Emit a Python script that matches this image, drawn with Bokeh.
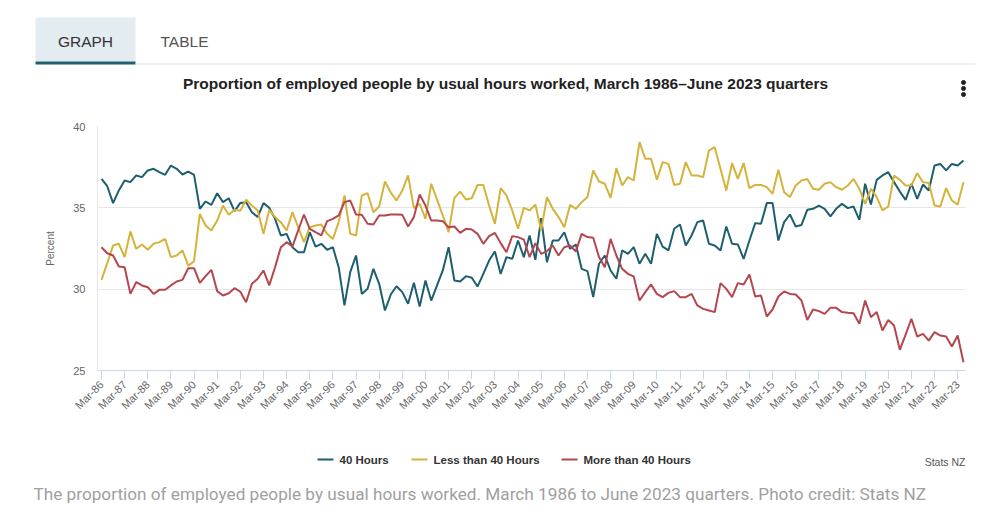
import math
from bokeh.plotting import figure
from bokeh.layouts import column
from bokeh.models import ColumnDataSource, FixedTicker, Range1d
from bokeh.core.properties import value
from bokeh.embed import file_html
from bokeh.resources import INLINE

# ---------------- data (quarterly, Mar-86 .. Jun-23) ----------------
tick_labels = ["Mar-86", "Mar-87", "Mar-88", "Mar-89", "Mar-90", "Mar-91", "Mar-92",
               "Mar-93", "Mar-94", "Mar-95", "Mar-96", "Mar-97", "Mar-98", "Mar-99",
               "Mar-00", "Mar-01", "Mar-02", "Mar-03", "Mar-04", "Mar-05", "Mar-06",
               "Mar-07", "Mar-08", "Mar-09", "Mar-10", "Mar-11", "Mar-12", "Mar-13",
               "Mar-14", "Mar-15", "Mar-16", "Mar-17", "Mar-18", "Mar-19", "Mar-20",
               "Mar-21", "Mar-22", "Mar-23"]
quarter_months = ["Mar", "Jun", "Sep", "Dec"]
years = ["86", "87", "88", "89", "90", "91", "92", "93", "94", "95", "96", "97", "98",
         "99", "00", "01", "02", "03", "04", "05", "06", "07", "08", "09", "10", "11",
         "12", "13", "14", "15", "16", "17", "18", "19", "20", "21", "22", "23"]
quarters = [m + "-" + y for y in years for m in quarter_months][:150]

hours_40 = [36.78, 36.33, 35.29, 36.07, 36.68, 36.58, 36.99, 36.89, 37.30, 37.40,
            37.19, 37.03, 37.60, 37.40, 37.05, 37.23, 37.03, 34.94, 35.39, 35.18,
            35.90, 35.35, 35.59, 34.80, 35.30, 35.35, 34.73, 34.43, 35.29, 35.00,
            34.32, 33.30, 33.40, 32.58, 32.27, 32.27, 33.50, 32.62, 32.79, 32.42,
            32.58, 31.35, 29.00, 31.05, 32.07, 29.71, 30.02, 31.25, 30.33, 28.69,
            29.67, 30.18, 29.82, 29.10, 30.39, 28.93, 30.53, 29.30, 30.23, 31.15,
            32.58, 30.53, 30.47, 30.80, 30.70, 30.16, 30.94, 31.76, 32.32, 30.94,
            31.97, 31.86, 32.99, 31.97, 33.30, 31.80, 34.36, 31.66, 32.99, 32.99,
            33.50, 32.48, 32.75, 31.25, 31.11, 29.51, 31.56, 32.07, 31.15, 30.64,
            32.38, 32.17, 32.58, 31.56, 32.17, 31.56, 33.40, 32.62, 32.38, 33.71,
            33.98, 32.68, 33.30, 34.12, 34.22, 32.79, 32.68, 32.38, 33.85, 32.79,
            32.75, 31.86, 32.99, 34.06, 34.02, 35.29, 35.29, 32.99, 34.12, 34.59,
            33.85, 33.95, 34.88, 34.94, 35.14, 34.94, 34.47, 34.94, 35.25, 34.98,
            35.08, 34.26, 36.48, 35.20, 36.72, 36.99, 37.19, 36.58, 36.00, 35.49,
            36.48, 35.55, 36.43, 36.07, 37.60, 37.70, 37.30, 37.70, 37.60, 37.91]

less_than_40 = [30.57, 31.60, 32.68, 32.79, 31.97, 33.55, 32.48, 32.75, 32.42, 32.79,
                32.89, 33.09, 31.97, 32.07, 32.38, 31.45, 31.72, 34.63, 33.91, 33.61,
                34.22, 35.14, 34.57, 34.88, 34.82, 35.50, 35.14, 34.84, 33.40, 34.88,
                34.43, 34.12, 33.61, 34.73, 33.81, 32.89, 33.81, 33.91, 33.98, 33.40,
                33.09, 34.12, 35.76, 33.40, 33.30, 35.76, 35.90, 34.73, 35.08, 36.62,
                35.94, 35.45, 36.07, 36.99, 34.98, 35.25, 34.32, 36.48, 35.51, 34.53,
                33.50, 35.61, 36.00, 35.51, 35.59, 36.41, 36.41, 35.14, 34.02, 36.21,
                35.76, 34.84, 33.71, 35.00, 34.84, 35.20, 33.61, 35.66, 34.94, 34.43,
                33.81, 35.18, 34.94, 35.35, 35.66, 37.30, 36.62, 36.48, 35.61, 37.44,
                36.37, 36.89, 36.68, 39.04, 38.01, 38.01, 36.72, 37.81, 37.70, 36.41,
                36.48, 37.81, 36.99, 36.99, 36.89, 38.52, 38.73, 37.40, 36.07, 37.75,
                36.78, 37.75, 36.21, 36.41, 36.41, 36.27, 35.86, 37.34, 35.96, 35.66,
                36.37, 36.68, 36.78, 36.17, 36.11, 36.48, 36.58, 36.27, 36.11, 36.37,
                36.78, 36.17, 35.25, 36.17, 35.66, 34.84, 35.08, 36.99, 36.72, 36.37,
                36.37, 37.13, 36.58, 36.52, 35.14, 35.08, 36.21, 35.45, 35.20, 36.58]

more_than_40 = [32.58, 32.21, 32.07, 31.39, 31.35, 29.71, 30.43, 30.23, 30.12, 29.71,
                29.96, 29.96, 30.23, 30.47, 30.57, 31.29, 31.29, 30.39, 30.80, 31.19,
                29.88, 29.61, 29.75, 30.06, 29.84, 29.20, 30.33, 30.64, 31.15, 30.23,
                31.35, 32.58, 32.89, 32.62, 33.61, 34.59, 33.71, 33.50, 33.30, 34.18,
                34.32, 34.53, 35.35, 35.45, 34.59, 34.57, 34.02, 33.98, 34.53, 34.53,
                34.59, 34.59, 34.57, 33.85, 34.43, 35.82, 35.14, 34.22, 34.22, 34.18,
                33.81, 33.85, 33.46, 33.71, 33.67, 33.40, 32.79, 33.26, 33.46, 32.83,
                32.27, 33.26, 33.20, 33.05, 31.97, 32.83, 32.17, 32.34, 32.68, 32.07,
                32.58, 32.68, 32.32, 33.40, 33.20, 33.16, 31.97, 31.35, 33.09, 32.07,
                31.25, 30.94, 30.78, 29.30, 29.82, 30.29, 29.71, 29.51, 29.77, 29.88,
                29.51, 29.51, 29.71, 29.00, 28.79, 28.69, 28.59, 30.37, 30.02, 29.51,
                30.37, 30.29, 30.90, 29.55, 29.61, 28.32, 28.75, 29.55, 29.86, 29.71,
                29.67, 29.30, 28.11, 28.75, 28.65, 28.48, 28.85, 28.85, 28.59, 28.55,
                28.52, 27.87, 29.30, 28.28, 28.59, 27.46, 28.11, 27.77, 26.27, 27.21,
                28.18, 27.09, 27.25, 26.84, 27.36, 27.15, 27.09, 26.48, 27.15, 25.51]

y_ticks = [25, 30, 35, 40]
series_names = ["40 Hours", "Less than 40 Hours", "More than 40 Hours"]

# ---------------- styles ----------------
TEAL = "#1d5f6f"
YELLOW = "#d5b33b"
RED = "#b4464f"
FONT = "Liberation Sans"
W = 1007
TOP_H, MAIN_H, BOT_H = 110, 330, 68


def deco_figure(h):
    f = figure(width=W, height=h, output_backend="svg", toolbar_location=None,
               title=None, x_range=Range1d(0, W), y_range=Range1d(h, 0),
               x_axis_location=None, y_axis_location=None, frame_align=False,
               min_border=0, min_border_left=0, min_border_right=0,
               min_border_top=0, min_border_bottom=0,
               background_fill_color="white", border_fill_color="white",
               outline_line_color=None)
    f.grid.visible = False
    return f


# ---------------- top strip: tabs, title, menu ----------------
top = deco_figure(TOP_H)
top.quad(left=[35], right=[135], top=[17], bottom=[61], fill_color="#e3ecf0", line_color=None)
top.quad(left=[35], right=[135], top=[61], bottom=[64], fill_color="#1f5f6e", line_color=None)
top.quad(left=[135], right=[975], top=[63], bottom=[64], fill_color="#e0e0e0", line_color=None)
top.text(x=[85, 184], y=[41, 41], text=["GRAPH", "TABLE"], text_align="center",
         text_baseline="middle", text_font=value(FONT), text_font_size="15.5px",
         text_color=["#333333", "#555555"])
top.text(x=[505], y=[83],
         text=["Proportion of employed people by usual hours worked, March 1986\u2013June 2023 quarters"],
         text_align="center", text_baseline="middle", text_font=value(FONT),
         text_font_size="15.5px", text_font_style="bold", text_color="#222222")
top.scatter(x=[963, 963, 963], y=[82, 88, 94], size=4, color="#222222")

# ---------------- main chart ----------------
src = ColumnDataSource(dict(x=list(range(len(quarters))), q=quarters,
                            h40=hours_40, lt40=less_than_40, gt40=more_than_40))

p = figure(width=W, height=MAIN_H, output_backend="svg", toolbar_location=None, title=None,
           x_range=Range1d(-0.69, len(quarters) - 1 + 0.35), y_range=Range1d(25, 40),
           frame_align=False,
           min_border_left=97, min_border_right=42, min_border_top=16,
           min_border_bottom=70, background_fill_color="white",
           border_fill_color="white", outline_line_color=None)

p.line("x", "h40", source=src, line_color=TEAL, line_width=2)
p.line("x", "lt40", source=src, line_color=YELLOW, line_width=2)
p.line("x", "gt40", source=src, line_color=RED, line_width=2)

xa = p.xaxis[0]
xa.ticker = FixedTicker(ticks=[i * 4 for i in range(len(tick_labels))])
xa.major_label_overrides = {i * 4: t for i, t in enumerate(tick_labels)}
xa.major_label_orientation = math.pi / 4
xa.major_label_text_font = FONT
xa.major_label_text_font_size = "11px"
xa.major_label_text_color = "#666666"
xa.axis_line_color = "#ccd6eb"
xa.major_tick_line_color = "#ccd6eb"
xa.major_tick_out = 9
xa.major_tick_in = 0
xa.minor_tick_line_color = None
xa.major_label_standoff = 3

ya = p.yaxis[0]
ya.ticker = FixedTicker(ticks=y_ticks)
ya.major_label_text_font = FONT
ya.major_label_text_font_size = "11px"
ya.major_label_text_color = "#666666"
ya.axis_line_color = "#e6e6e6"
ya.major_tick_line_color = None
ya.minor_tick_line_color = None
ya.major_tick_out = 0
ya.major_label_standoff = 12
ya.axis_label = "Percent"
ya.axis_label_text_font = FONT
ya.axis_label_text_font_size = "10px"
ya.axis_label_text_font_style = "normal"
ya.axis_label_text_color = "#666666"
ya.axis_label_standoff = 14

p.xgrid.grid_line_color = None
p.ygrid.grid_line_color = "#e6e6e6"

# ---------------- bottom strip: legend, credit, caption ----------------
bot = deco_figure(BOT_H)
leg_y = 19
bot.segment(x0=[317, 411, 561], x1=[333, 427, 577], y0=[leg_y] * 3, y1=[leg_y] * 3,
            line_color=[TEAL, YELLOW, RED], line_width=2)
bot.text(x=[339, 433, 583], y=[leg_y] * 3, text=series_names, text_align="left",
         text_baseline="middle", text_font=value(FONT), text_font_size="11.5px",
         text_font_style="bold", text_color="#333333")
bot.text(x=[965], y=[21], text=["Stats NZ"], text_align="right", text_baseline="middle",
         text_font=value(FONT), text_font_size="10.5px", text_color="#555555")
bot.text(x=[33], y=[53],
         text=["The proportion of employed people by usual hours worked. March 1986 to June 2023 quarters. Photo credit: Stats NZ"],
         text_align="left", text_baseline="middle", text_font=value("Roboto"),
         text_font_size="17.2px", text_color="#a0a0a0")

layout = column(top, p, bot, spacing=0)
open("out.html", "w").write(file_html(layout, INLINE))
